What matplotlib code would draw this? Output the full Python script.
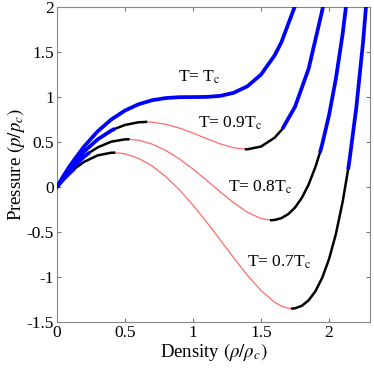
import numpy as np
import matplotlib
matplotlib.use("Agg")
import matplotlib.pyplot as plt

plt.rcParams['font.family'] = ['Liberation Serif', 'DejaVu Serif']
plt.rcParams['mathtext.fontset'] = 'stix'
plt.rcParams['axes.unicode_minus'] = False

# reduced density / pressure
rho_1 = [0, 0.05, 0.1, 0.2, 0.3, 0.4, 0.5, 0.6, 0.7, 0.8, 0.9, 1.0, 1.1, 1.2, 1.3, 1.4, 1.5, 1.6, 1.65, 1.75, 1.8]
p_1 = [0, 0.128, 0.246, 0.451, 0.619, 0.751, 0.850, 0.920, 0.965, 0.989, 0.999, 1.000, 1.002, 1.013, 1.048, 1.120, 1.250, 1.463, 1.610, 2.013, 2.280]

rho_09 = [0, 0.05, 0.1, 0.2, 0.3, 0.4, 0.4255, 0.5, 0.6, 0.655, 0.7, 0.8, 0.9, 1.0, 1.1, 1.2, 1.3, 1.39, 1.4, 1.5, 1.6, 1.65, 1.658, 1.75, 1.85, 1.95, 2.0]
p_09 = [0, 0.1145, 0.2183, 0.3943, 0.530, 0.6277, 0.6468, 0.690, 0.720, 0.724, 0.7213, 0.6982, 0.6557, 0.600, 0.5384, 0.480, 0.4359, 0.4199, 0.420, 0.450, 0.5486, 0.6325, 0.6485, 0.8925, 1.3151, 1.9639, 2.400]

rho_08 = [0, 0.05, 0.1, 0.2, 0.24, 0.3, 0.4, 0.5, 0.525, 0.6, 0.7, 0.8, 0.9, 1.0, 1.1, 1.2, 1.3, 1.4, 1.5, 1.575, 1.6, 1.65, 1.7, 1.75, 1.8, 1.85, 1.9, 1.933, 1.95, 2.0, 2.05, 2.1, 2.15]
p_08 = [0, 0.1010, 0.1907, 0.3371, 0.3837, 0.4411, 0.5046, 0.530, 0.5307, 0.520, 0.4778, 0.4073, 0.3129, 0.200, 0.0753, -0.0533, -0.1759, -0.280, -0.350, -0.3682, -0.3657, -0.3453, -0.3008, -0.2275, -0.120, 0.0282, 0.2245, 0.383, 0.4782, 0.800, 1.2030, 1.7033, 2.3207]

rho_07 = [0, 0.05, 0.1, 0.128, 0.2, 0.3, 0.4, 0.42, 0.5, 0.6, 0.7, 0.8, 0.9, 1.0, 1.1, 1.2, 1.3, 1.4, 1.5, 1.6, 1.65, 1.7, 1.73, 1.75, 1.8, 1.85, 1.9, 1.95, 2.0, 2.05, 2.1, 2.14, 2.15, 2.2, 2.25, 2.3]
p_07 = [0, 0.0874, 0.1631, 0.2004, 0.280, 0.3522, 0.3815, 0.3824, 0.370, 0.320, 0.2343, 0.1164, -0.030, -0.200, -0.3879, -0.5867, -0.7876, -0.980, -1.150, -1.280, -1.3231, -1.3469, -1.3504, -1.3475, -1.320, -1.2588, -1.1573, -1.0075, -0.800, -0.5233, -0.1633, 0.196, 0.2972, 0.880, 1.6125, 2.530]

# gas binodal, spinodal max, spinodal min, liquid binodal
bounds_09 = [0.4255, 0.655, 1.39, 1.658]
bounds_08 = [0.24, 0.525, 1.575, 1.933]
bounds_07 = [0.128, 0.42, 1.73, 2.14]

labels = ['T= T$_{\\rm c}$', 'T= 0.9T$_{\\rm c}$', 'T= 0.8T$_{\\rm c}$', 'T= 0.7T$_{\\rm c}$']
label_pos = [(0.89, 1.22), (1.04, 0.71), (1.26, 0.0), (1.40, -0.84)]

blue = (0, 0, 1)
red = (1, 0.42, 0.42)

fig = plt.figure(figsize=(3.74, 3.74), dpi=100)
ax = fig.add_axes([0.152, 0.139, 0.837, 0.842])


def draw_isotherm(rho, p, b):
    rho = np.array(rho)
    p = np.array(p)
    gas = rho <= b[0]
    meta_g = (rho >= b[0]) & (rho <= b[1])
    unst = (rho >= b[1]) & (rho <= b[2])
    meta_l = (rho >= b[2]) & (rho <= b[3])
    liq = rho >= b[3]
    ax.plot(rho[unst], p[unst], color=red, lw=0.9, zorder=2)
    ax.plot(rho[meta_g], p[meta_g], color='k', lw=1.8, zorder=3)
    ax.plot(rho[meta_l], p[meta_l], color='k', lw=1.8, zorder=3)
    ax.plot(rho[gas], p[gas], color=blue, lw=2.7, zorder=4, solid_capstyle='butt')
    ax.plot(rho[liq], p[liq], color=blue, lw=2.7, zorder=4, solid_capstyle='butt')


draw_isotherm(rho_07, p_07, bounds_07)
draw_isotherm(rho_08, p_08, bounds_08)
draw_isotherm(rho_09, p_09, bounds_09)
ax.plot(rho_1, p_1, color=blue, lw=2.7, zorder=5)

for txt, (x, y) in zip(labels, label_pos):
    ax.text(x, y, txt, fontsize=12.5, va='center', ha='left')

ax.set_xlim(0, 2.3)
ax.set_ylim(-1.5, 2)
ax.set_xticks([0, 0.5, 1, 1.5, 2])
ax.set_xticklabels(['0', '0.5', '1', '1.5', '2'])
ax.set_yticks([-1.5, -1, -0.5, 0, 0.5, 1, 1.5, 2])
ax.set_yticklabels(['-1.5', '-1', '-0.5', '0', '0.5', '1', '1.5', '2'])
ax.tick_params(direction='in', top=True, right=True, labelsize=12.5, length=3,
               color='#777777', pad=2)
for s in ax.spines.values():
    s.set_color('#888888')
    s.set_linewidth(0.8)
ax.set_xlabel('Density $(\\rho/\\rho_c)$', fontsize=13.5, labelpad=0)
ax.set_ylabel('Pressure $(p/p_c)$', fontsize=13.5, labelpad=0)

fig.savefig('out.png', dpi=100)
